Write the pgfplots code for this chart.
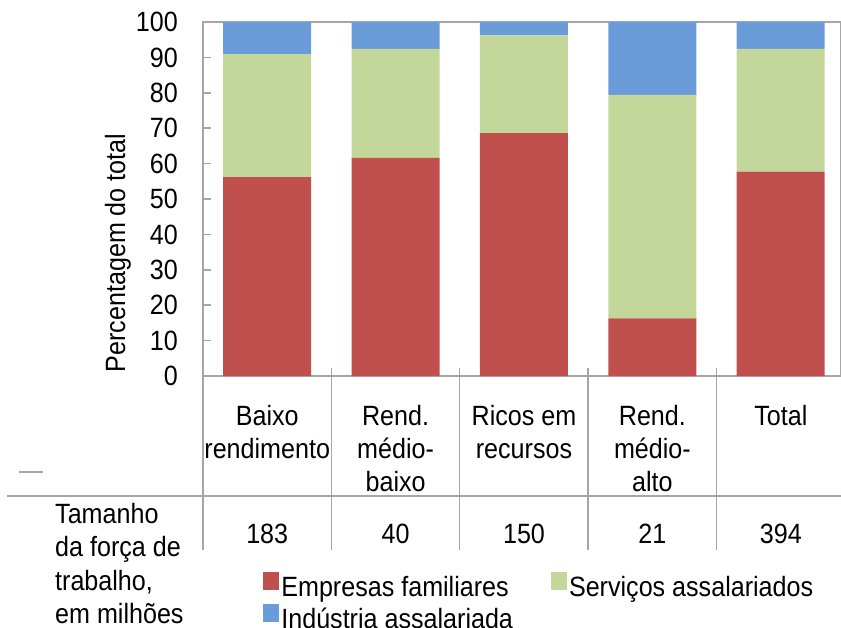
\documentclass[border=0pt]{standalone}
\usepackage{pgfplots}
\pgfplotsset{compat=1.18}
\usepackage{fontspec}
\setmainfont{Liberation Sans}[FakeStretch=0.9]
\definecolor{cRed}{HTML}{C0504D}
\definecolor{cGreen}{HTML}{C4D79B}
\definecolor{cBlue}{HTML}{6A9CDA}
\definecolor{cLine}{HTML}{A6A6A6}
\begin{document}
\fontsize{28}{33}\selectfont
\begin{tikzpicture}[font=\fontsize{28}{33}\selectfont]
\path[use as bounding box] (0bp,0bp) rectangle (841bp,-628bp);
\begin{axis}[
  at={(203bp,-376bp)}, anchor=south west,
  scale only axis, width=638bp, height=354bp,
  ybar stacked, bar width=88bp,
  xmin=-0.5, xmax=4.47, ymin=0, ymax=100,
  xtick=\empty, ytick={0,10,...,100}, ytick pos=left,
  axis line style={cLine, line width=1.5bp},
  major tick style={cLine, line width=1.5bp}, major tick length=8bp,
  yticklabel style={anchor=east, inner sep=0pt, xshift=-25bp},
  /pgf/number format/assume math mode=true,
  clip=false,
  legend style={at={(0.0935,-0.553)}, anchor=north west, draw=none, fill=none,
    inner sep=0pt, row sep=0bp,
    /tikz/every even column/.append style={column sep=35bp},
    nodes={inner sep=2.5bp}},
  legend columns=2,
  legend cell align=left,
  legend image code/.code={\fill[#1] (0bp,-1bp) rectangle (16bp,17bp);},
]
\addplot[fill=cRed, draw=none] coordinates {(0,56.2) (1,61.6) (2,68.6) (3,16.3) (4,57.7)};
\addplot[fill=cGreen, draw=none] coordinates {(0,34.7) (1,30.8) (2,27.6) (3,63.1) (4,34.7)};
\addplot[fill=cBlue, draw=none] coordinates {(0,9.1) (1,7.6) (2,3.8) (3,20.6) (4,7.6)};
\legend{Empresas familiares, Serviços assalariados, Indústria assalariada}
\end{axis}
% y label
\node[rotate=90, anchor=center, inner sep=0pt] at (118bp,-253bp) {Percentagem do total};
% table lines
\draw[cLine, line width=1.5bp] (203bp,-376bp) -- (203bp,-550bp);
\foreach \xx in {331.4,459.7,588,716.5} {
  \draw[cLine, line width=1.5bp] (\xx bp,-368bp) -- (\xx bp,-550bp);
}
\draw[cLine, line width=1.5bp] (7bp,-496bp) -- (841bp,-496bp);
\draw[cLine, line width=1.5bp] (19bp,-472bp) -- (43bp,-472bp);
% category labels
\node[anchor=base, inner sep=0pt] at (267.2bp,-425bp) {Baixo};
\node[anchor=base, inner sep=0pt] at (267.2bp,-458bp) {rendimento};
\node[anchor=base, inner sep=0pt] at (395.6bp,-425bp) {Rend.};
\node[anchor=base, inner sep=0pt] at (395.6bp,-458bp) {médio-};
\node[anchor=base, inner sep=0pt] at (395.6bp,-491bp) {baixo};
\node[anchor=base, inner sep=0pt] at (524bp,-425bp) {Ricos em};
\node[anchor=base, inner sep=0pt] at (524bp,-458bp) {recursos};
\node[anchor=base, inner sep=0pt] at (652.4bp,-425bp) {Rend.};
\node[anchor=base, inner sep=0pt] at (652.4bp,-458bp) {médio-};
\node[anchor=base, inner sep=0pt] at (652.4bp,-491bp) {alto};
\node[anchor=base, inner sep=0pt] at (780.8bp,-425bp) {Total};
% numbers row
\node[anchor=base, inner sep=0pt] at (267.2bp,-543bp) {183};
\node[anchor=base, inner sep=0pt] at (395.6bp,-543bp) {40};
\node[anchor=base, inner sep=0pt] at (524bp,-543bp) {150};
\node[anchor=base, inner sep=0pt] at (652.4bp,-543bp) {21};
\node[anchor=base, inner sep=0pt] at (780.8bp,-543bp) {394};
% left text
\node[anchor=base west, inner sep=0pt] at (55bp,-523bp) {Tamanho};
\node[anchor=base west, inner sep=0pt] at (55bp,-556bp) {da força de};
\node[anchor=base west, inner sep=0pt] at (55bp,-590bp) {trabalho,};
\node[anchor=base west, inner sep=0pt] at (55bp,-623bp) {em milhões};
\end{tikzpicture}
\end{document}
